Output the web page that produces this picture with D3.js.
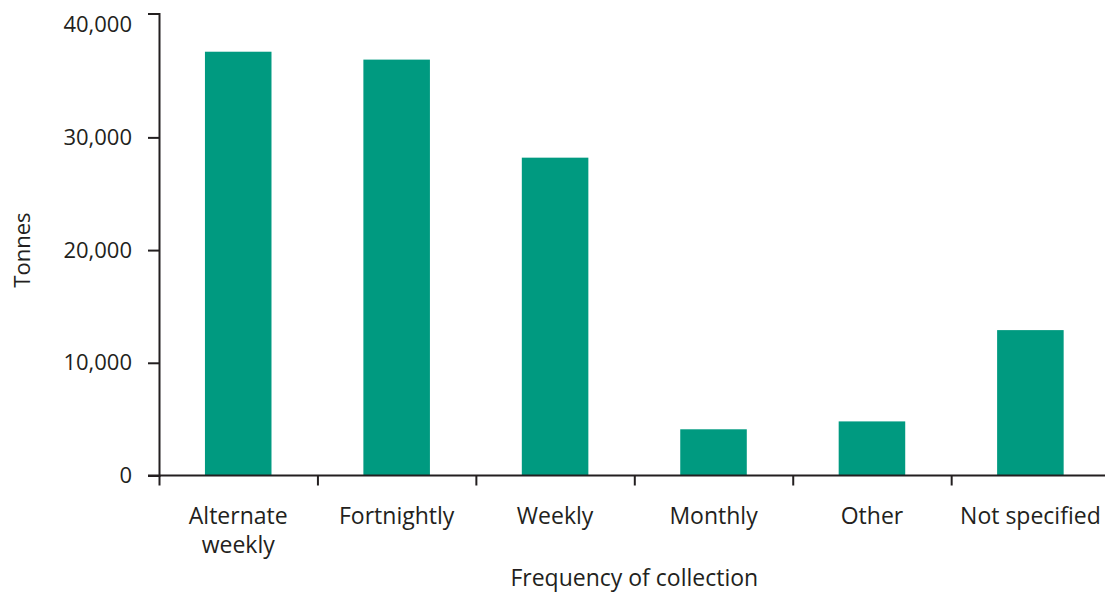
<!DOCTYPE html>
<html>
<head>
  <meta charset="utf-8">
  <script src="https://d3js.org/d3.v7.min.js"></script>
  <style>
  body{
    margin:0;
    background:#fff;
  }
  svg text{
    font-family:"Open Sans", "Noto Sans", sans-serif;
    fill:#231f20;
  }
  .axis path, .axis line{
    stroke:#231f20;
    stroke-width:2px;
  }
  .bar{
    fill:#009a80;
  }
  </style>
</head>
<body>
  <svg width="1105" height="592"></svg>
<script>
  // chart values
  var categories = ["Alternate\nweekly", "Fortnightly", "Weekly", "Monthly", "Other", "Not specified"];
  var tonnes = [37600, 36900, 28200, 4100, 4800, 12900];
  var yTicks = [0, 10000, 20000, 30000, 40000];
  var yMax = 41000;

  var svg = d3.select("svg"),
      plotLeft = 159, plotRight = 1109.6,
      plotTop = 13.4, plotBottom = 475.5;

  var data = categories.map(function(c, i){ return {x: c, y: tonnes[i]}; });

  var x = d3.scaleBand().domain(categories).range([plotLeft, plotRight])
            .paddingInner(0.58).paddingOuter(0.29),
      y = d3.scaleLinear().domain([0, yMax]).range([plotBottom, plotTop]);

  // bars
  svg.selectAll(".bar")
    .data(data)
    .enter()
    .append("rect")
    .attr("class", "bar")
    .attr("x", function(d){ return x(d.x); })
    .attr("y", function(d){ return y(d.y); })
    .attr("width", x.bandwidth())
    .attr("height", function(d){ return plotBottom - y(d.y); });

  // y axis
  var yAxis = svg.append("g")
    .attr("class", "axis axis--y")
    .attr("transform", "translate(" + plotLeft + ",0)")
    .call(d3.axisLeft(y).tickValues(yTicks).tickSize(11).tickSizeOuter(11)
      .tickPadding(16).tickFormat(d3.format(",")));
  yAxis.selectAll(".tick text").attr("font-size", "22px").attr("font-family", null);
  // no tick mark at 40,000 in the original, only the cap at the top of the axis
  yAxis.selectAll(".tick").filter(function(d){ return d === 40000; }).select("line").remove();

  // x axis: ticks sit on the category boundaries
  var bounds = d3.scaleLinear().domain([0, categories.length]).range([plotLeft, plotRight]);
  svg.append("g")
    .attr("class", "axis axis--x")
    .attr("transform", "translate(0," + plotBottom + ")")
    .call(d3.axisBottom(bounds).tickValues(d3.range(categories.length + 1))
      .tickSize(10).tickSizeOuter(0).tickFormat(""))
    .select(".domain").attr("d", "M" + (plotLeft - 11) + ",0H" + plotRight);

  // category labels
  var labels = svg.append("g")
    .selectAll("text")
    .data(categories)
    .enter()
    .append("text")
    .attr("text-anchor", "middle")
    .attr("font-size", "23px")
    .attr("transform", function(d){ return "translate(" + (x(d) + x.bandwidth() / 2) + "," + (plotBottom + 48.5) + ")"; });
  labels.selectAll("tspan")
    .data(function(d){ return d.split("\n"); })
    .enter()
    .append("tspan")
    .attr("x", 0)
    .attr("y", function(d, i){ return i * 29; })
    .text(function(d){ return d; });

  // axis titles
  svg.append("text")
    .attr("x", (plotLeft + plotRight) / 2)
    .attr("y", 586)
    .attr("text-anchor", "middle")
    .attr("font-size", "23px")
    .text("Frequency of collection");

  svg.append("text")
    .attr("transform", "translate(30," + y(20000) + ") rotate(-90)")
    .attr("text-anchor", "middle")
    .attr("font-size", "22px")
    .text("Tonnes");
</script>
</body>
</html>
